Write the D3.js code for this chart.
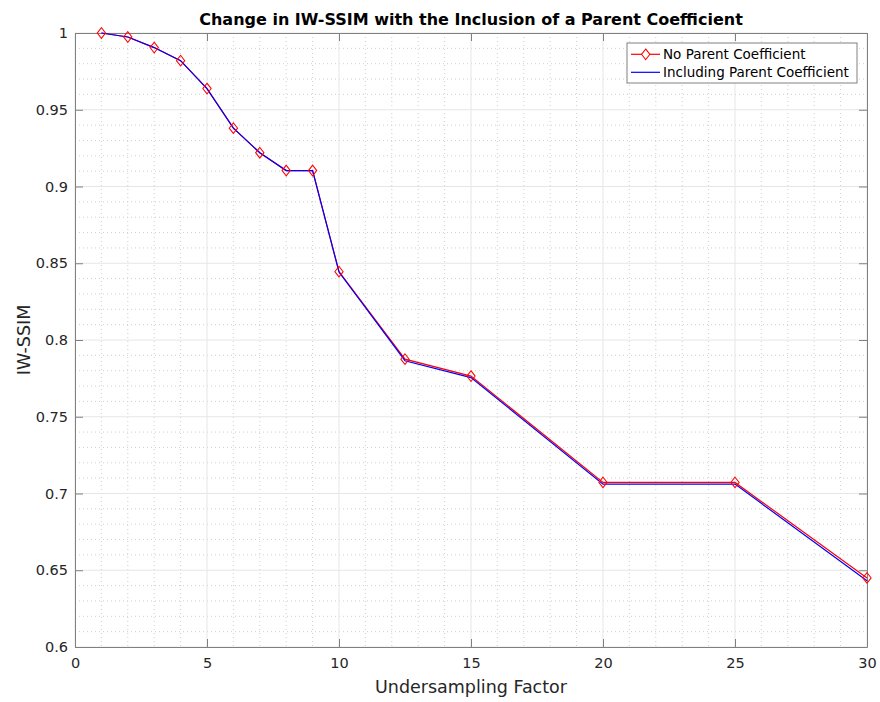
<!DOCTYPE html>
<html>
<head>
<meta charset="utf-8">
<script src="https://cdn.jsdelivr.net/npm/d3@7"></script>
<style>
  body { margin: 0; background: #fff; }
  text { font-family: "DejaVu Sans", "Liberation Sans", Arial, sans-serif; }
</style>
</head>
<body>
<div id="chart"></div>
<script>
// Data
var factors = [1, 2, 3, 4, 5, 6, 7, 8, 9, 10, 12.5, 15, 20, 25, 30];
var noParent = [1.0, 0.9974, 0.9905, 0.982, 0.9638, 0.938, 0.922, 0.9104, 0.9104, 0.8445, 0.7875, 0.7765, 0.7072, 0.7072, 0.645];
var withParent = [1.0, 0.9974, 0.9905, 0.982, 0.9638, 0.938, 0.922, 0.9104, 0.9104, 0.8443, 0.7865, 0.7755, 0.7061, 0.7061, 0.6432];
var xTicks = [0, 5, 10, 15, 20, 25, 30];
var yTicks = [0.6, 0.65, 0.7, 0.75, 0.8, 0.85, 0.9, 0.95, 1];
var seriesNames = ["No Parent Coefficient", "Including Parent Coefficient"];

var svgWidth = 880, svgHeight = 702;
var margin = { top: 33, right: 13, bottom: 55, left: 75 };
var chartWidth = svgWidth - margin.left - margin.right;
var chartHeight = svgHeight - margin.top - margin.bottom;

var svg = d3.select("#chart").append("svg")
    .attr("width", svgWidth)
    .attr("height", svgHeight);

var chartGroup = svg.append("g")
    .attr("transform", `translate(${margin.left}, ${margin.top})`);

var xScale = d3.scaleLinear().domain([0, 30]).range([0, chartWidth]);
var yScale = d3.scaleLinear().domain([0.6, 1]).range([chartHeight, 0]);

// minor grid (dotted)
var xMinor = d3.range(0, 31, 1).filter(d => d % 5 !== 0);
var yMinor = d3.range(60, 101, 1).filter(d => d % 5 !== 0).map(d => d / 100);

chartGroup.append("g").selectAll("line")
    .data(xMinor).enter().append("line")
    .attr("x1", d => xScale(d)).attr("x2", d => xScale(d))
    .attr("y1", 0).attr("y2", chartHeight)
    .attr("stroke", "#cfcfcf").attr("stroke-width", 1)
    .attr("stroke-dasharray", "1,3");

chartGroup.append("g").selectAll("line")
    .data(yMinor).enter().append("line")
    .attr("x1", 0).attr("x2", chartWidth)
    .attr("y1", d => yScale(d)).attr("y2", d => yScale(d))
    .attr("stroke", "#cfcfcf").attr("stroke-width", 1)
    .attr("stroke-dasharray", "1,3");

// major grid
chartGroup.append("g").selectAll("line")
    .data(xTicks).enter().append("line")
    .attr("x1", d => xScale(d)).attr("x2", d => xScale(d))
    .attr("y1", 0).attr("y2", chartHeight)
    .attr("stroke", "#e6e6e6").attr("stroke-width", 1);

chartGroup.append("g").selectAll("line")
    .data(yTicks).enter().append("line")
    .attr("x1", 0).attr("x2", chartWidth)
    .attr("y1", d => yScale(d)).attr("y2", d => yScale(d))
    .attr("stroke", "#e6e6e6").attr("stroke-width", 1);

// axes (ticks pointing inward)
var axisColor = "#808080";
var xAxis = d3.axisBottom(xScale).tickValues(xTicks).tickSizeInner(-8).tickSizeOuter(0).tickPadding(11);
var yAxis = d3.axisLeft(yScale).tickValues(yTicks).tickSizeInner(-8).tickSizeOuter(0).tickPadding(7)
    .tickFormat(d => d3.format("")(+d.toFixed(2)));
var xTop = d3.axisTop(xScale).tickValues(xTicks).tickSizeInner(-8).tickSizeOuter(0).tickFormat("");
var yRight = d3.axisRight(yScale).tickValues(yTicks).tickSizeInner(-8).tickSizeOuter(0).tickFormat("");

function styleAxis(g) {
    g.selectAll("path").attr("stroke", axisColor);
    g.selectAll("line").attr("stroke", axisColor);
    g.selectAll("text").attr("fill", "#262626").style("font-size", "14.5px")
        .style("font-family", "'DejaVu Sans', 'Liberation Sans', sans-serif");
}

chartGroup.append("g").attr("transform", `translate(0, ${chartHeight})`).call(xAxis).call(styleAxis);
chartGroup.append("g").call(yAxis).call(styleAxis);
chartGroup.append("g").call(xTop).call(styleAxis);
chartGroup.append("g").attr("transform", `translate(${chartWidth}, 0)`).call(yRight).call(styleAxis);

// lines
var line = d3.line()
    .x((d, i) => xScale(factors[i]))
    .y(d => yScale(d));

chartGroup.append("path")
    .datum(noParent)
    .attr("d", line)
    .attr("fill", "none")
    .attr("stroke", "#ff0000")
    .attr("stroke-width", 1.2);

chartGroup.append("path")
    .datum(withParent)
    .attr("d", line)
    .attr("fill", "none")
    .attr("stroke", "#0000ff")
    .attr("stroke-width", 1.2);

// diamond markers for red series
var diamond = d3.symbol().type(d3.symbolDiamond2).size(72);
chartGroup.append("g").selectAll("path")
    .data(noParent).enter().append("path")
    .attr("d", diamond)
    .attr("transform", (d, i) => `translate(${xScale(factors[i])}, ${yScale(d)}) scale(0.78, 1)`)
    .attr("fill", "none")
    .attr("stroke", "#ff0000")
    .attr("stroke-width", 1.2);

// title
svg.append("text")
    .attr("x", margin.left + chartWidth / 2)
    .attr("y", 25)
    .attr("text-anchor", "middle")
    .style("font-size", "16px")
    .style("font-weight", "bold")
    .attr("fill", "#000")
    .text("Change in IW-SSIM with the Inclusion of a Parent Coefficient");

// axis labels
svg.append("text")
    .attr("x", margin.left + chartWidth / 2)
    .attr("y", 693)
    .attr("text-anchor", "middle")
    .style("font-size", "17.5px")
    .attr("fill", "#262626")
    .text("Undersampling Factor");

svg.append("text")
    .attr("transform", "rotate(-90)")
    .attr("x", -(margin.top + chartHeight / 2))
    .attr("y", 29.5)
    .attr("text-anchor", "middle")
    .style("font-size", "17.5px")
    .attr("fill", "#262626")
    .text("IW-SSIM");

// legend
var legend = svg.append("g").attr("transform", "translate(627, 43)");
legend.append("rect")
    .attr("width", 230).attr("height", 40)
    .attr("fill", "#fff").attr("stroke", "#808080").attr("stroke-width", 1);

var legendColors = ["#ff0000", "#0000ff"];
seriesNames.forEach(function(name, i) {
    var ly = 11.3 + i * 18;
    legend.append("line")
        .attr("x1", 4).attr("x2", 33).attr("y1", ly).attr("y2", ly)
        .attr("stroke", legendColors[i]).attr("stroke-width", 1.2);
    if (i === 0) {
        legend.append("path")
            .attr("d", diamond)
            .attr("transform", `translate(18.7, ${ly}) scale(0.78, 1)`)
            .attr("fill", "#fff").attr("stroke", "#ff0000").attr("stroke-width", 1.2);
    }
    legend.append("text")
        .attr("x", 36).attr("y", ly + 5)
        .style("font-size", "13.5px")
        .attr("fill", "#000")
        .text(name);
});
</script>
</body>
</html>
